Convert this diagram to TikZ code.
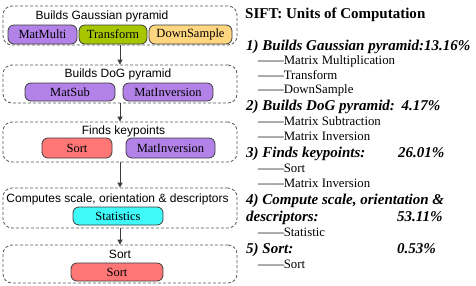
\documentclass[tikz,border=0pt]{standalone}
\usepackage{fontspec}
\setmainfont{Liberation Serif}
\newfontfamily\sansf{Liberation Sans}
\usetikzlibrary{arrows.meta}
\definecolor{purp}{RGB}{178,130,232}
\definecolor{lime}{RGB}{168,198,0}
\definecolor{orng}{RGB}{255,214,128}
\definecolor{salm}{RGB}{255,118,118}
\definecolor{cyn}{RGB}{64,250,250}
\definecolor{edge}{RGB}{60,60,60}
\tikzset{
 grp/.style={draw=edge!85, dash pattern=on 3pt off 2pt, rounded corners=9pt, line width=0.8pt, minimum width=234pt, inner sep=0pt},
 pill/.style={draw=edge, line width=0.8pt, rounded corners=6pt, inner sep=0pt, font=\fontsize{12.5}{14}\selectfont, text=black},
 glabel/.style={anchor=base, font=\sansf\fontsize{12}{14}\selectfont, inner sep=0pt},
 flow/.style={-{Triangle[length=5pt,width=5pt]}, line width=0.8pt, draw=edge},
 ttl/.style={anchor=base west, inner sep=0pt, font=\bfseries\fontsize{15}{17}\selectfont},
 head/.style={anchor=base west, inner sep=0pt, font=\bfseries\itshape\fontsize{15}{17}\selectfont},
 item/.style={anchor=base west, inner sep=0pt, font=\fontsize{12.8}{15}\selectfont},
}
\begin{document}
\begin{tikzpicture}[x=1pt,y=-1pt]
\useasboundingbox (0,0) rectangle (476,285);
% group boxes
\node[grp, minimum height=39pt] (g1) at (120,25.5) {};
\node[grp, minimum height=38pt] (g2) at (120,84) {};
\node[grp, minimum height=40pt] (g3) at (120,142) {};
\node[grp, minimum height=40pt] (g4) at (120,208) {};
\node[grp, minimum height=38pt] (g5) at (120,264) {};
% group labels
\node[glabel] (l1) at (102,19) {Builds Gaussian pyramid};
\node[glabel] (l2) at (118,77) {Builds DoG pyramid};
\node[glabel] (l3) at (123.5,134) {Finds keypoints};
\node[glabel] (l4) at (117.5,202) {Computes scale, orientation \& descriptors};
\node[glabel] (l5) at (120,258) {Sort};
% pills
\node[pill, fill=purp, minimum width=69pt, minimum height=19pt] (p11) at (42.5,34.5) {MatMulti};
\node[pill, fill=lime, minimum width=68pt, minimum height=19pt] (p12) at (113,34.5) {Transform};
\node[pill, fill=orng, minimum width=83pt, minimum height=19pt] (p13) at (190.5,34.5) {DownSample};
\node[pill, fill=purp, minimum width=90pt, minimum height=18pt] (p21) at (70,92) {MatSub};
\node[pill, fill=purp, minimum width=90pt, minimum height=18pt] (p22) at (168,92) {MatInversion};
\node[pill, fill=salm, minimum width=70pt, minimum height=20pt] (p31) at (77,148) {Sort};
\node[pill, fill=purp, minimum width=89pt, minimum height=20pt] (p32) at (170.5,148) {MatInversion};
\node[pill, fill=cyn, minimum width=90pt, minimum height=18pt] (p41) at (118,216) {Statistics};
\node[pill, fill=salm, minimum width=92pt, minimum height=18pt] (p51) at (117,272) {Sort};
% arrows
\draw[flow] (g1) -- (g2);
\draw[flow] (g2) -- (g3);
\draw[flow] (g3) -- (g4);
\draw[flow] (g4) -- (g5);
% right text
\node[ttl] (t0) at (245,18) {SIFT: Units of Computation};
\node[head] (h1) at (246,50.5) {1) Builds Gaussian pyramid:13.16\%};
\node[item] (s11) at (258,64.5) {——Matrix Multiplication};
\node[item] (s12) at (258,79) {——Transform};
\node[item] (s13) at (258,93.5) {——DownSample};
\node[head] (h2) at (246,110) {2) Builds DoG pyramid:};
\node[head] (v2) at (401.5,110) {4.17\%};
\node[item] (s21) at (258,125.5) {——Matrix Subtraction};
\node[item] (s22) at (258,140) {——Matrix Inversion};
\node[head] (h3) at (246,157) {3) Finds keypoints:};
\node[head] (v3) at (398,157) {26.01\%};
\node[item] (s31) at (258,172) {——Sort};
\node[item] (s32) at (258,187) {——Matrix Inversion};
\node[head] (h4) at (246,204) {4) Compute scale, orientation \&};
\node[head] (h4b) at (246,221) {descriptors:};
\node[head] (v4) at (397,221) {53.11\%};
\node[item] (s41) at (258,236) {——Statistic};
\node[head] (h5) at (246,253) {5) Sort:};
\node[head] (v5) at (397,253) {0.53\%};
\node[item] (s51) at (258,268) {——Sort};
\end{tikzpicture}
\end{document}
